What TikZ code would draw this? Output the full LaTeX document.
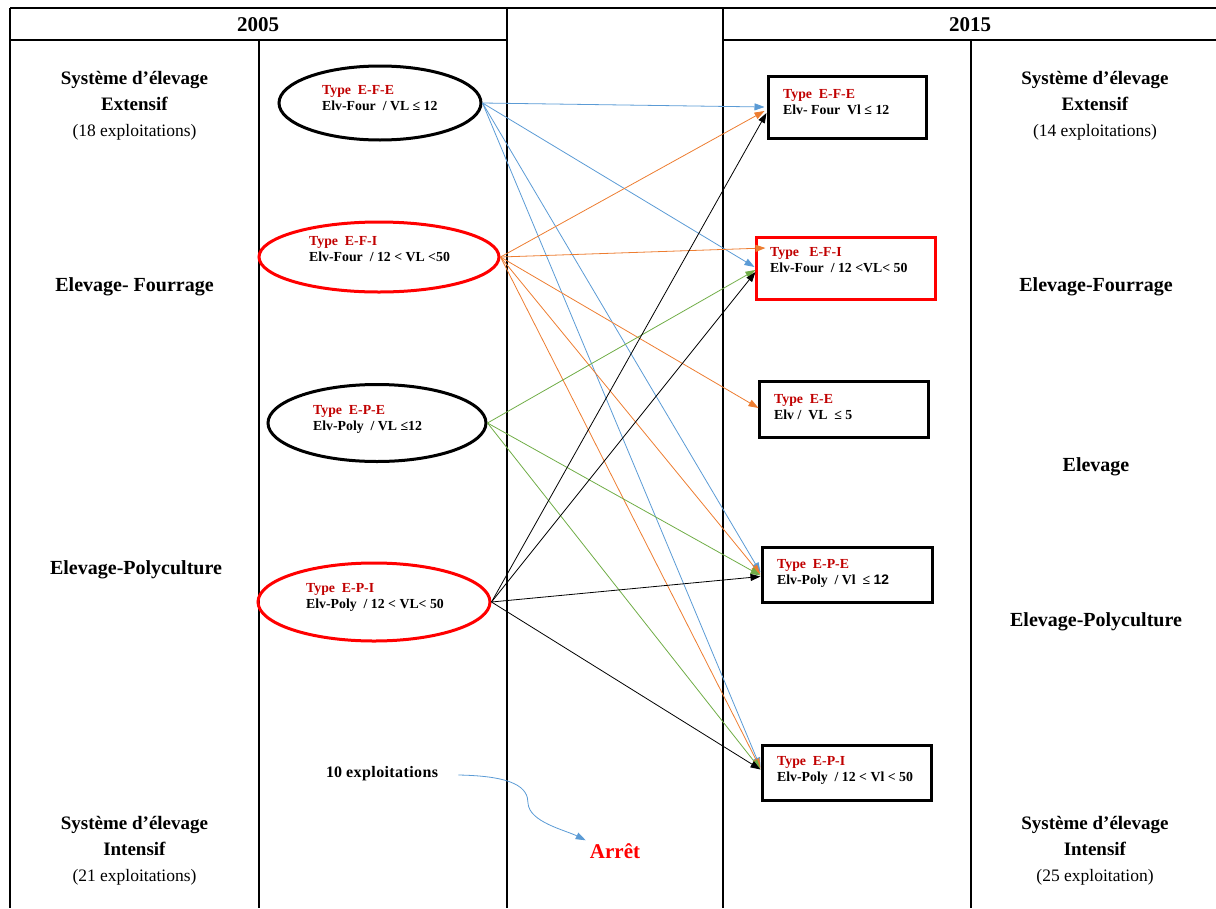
\documentclass[tikz,border=0pt]{standalone}
\usepackage{fontspec}
\setmainfont{Liberation Serif}
\newfontfamily\sansf{Liberation Sans}
\usetikzlibrary{arrows.meta,shapes.geometric,calc}
\definecolor{ablue}{HTML}{5B9BD5}
\definecolor{aorange}{HTML}{ED7D31}
\definecolor{agreen}{HTML}{70AD47}
\definecolor{dred}{HTML}{C00000}
\definecolor{bred}{HTML}{FF0000}
\tikzset{
  grid/.style={line width=2pt},
  ell/.style={ellipse, draw, line width=3pt, inner sep=0pt},
  bx/.style={rectangle, draw, line width=3pt, inner sep=0pt},
  lbl/.style={align=left, anchor=west, inner sep=0pt, font=\fontsize{13.8}{16}\selectfont\bfseries},
  conn/.style={line width=0.8pt, -{Triangle[length=10pt,width=7pt]}},
  side/.style={align=center, inner sep=0pt, font=\fontsize{19}{26}\selectfont},
  big/.style={inner sep=0pt, font=\fontsize{20}{24}\selectfont\bfseries},
}
\begin{document}
\begin{tikzpicture}[x=1pt,y=-1pt]
\useasboundingbox (0,0) rectangle (1216,908);
% table
\draw[grid] (10,8) -- (1216,8);
\draw[grid] (10,40) -- (507,40);
\draw[grid] (723,40) -- (1216,40);
\draw[grid] (10,8) -- (10,908);
\draw[grid] (259,40) -- (259,908);
\draw[grid] (507,8) -- (507,908);
\draw[grid] (723,8) -- (723,908);
\draw[grid] (971,40) -- (971,908);
\node[big, font=\fontsize{21}{24}\selectfont\bfseries] (y1) at (258,25) {2005};
\node[big, font=\fontsize{21}{24}\selectfont\bfseries] (y2) at (970,25) {2015};
% side labels
\node[side] (l1) at (134.5,106) {\textbf{Système d’élevage}\\\textbf{Extensif}\\{\fontsize{17.5}{26}\selectfont(18 exploitations)}};
\node[big] (l2) at (134.5,287) {Elevage- Fourrage};
\node[big] (l3) at (136,570) {Elevage-Polyculture};
\node[side] (l4) at (134.5,851) {\textbf{Système d’élevage}\\\textbf{Intensif}\\{\fontsize{17.5}{26}\selectfont(21 exploitations)}};
\node[side] (r1) at (1095,106) {\textbf{Système d’élevage}\\\textbf{Extensif}\\{\fontsize{17.5}{26}\selectfont(14 exploitations)}};
\node[big] (r2) at (1096,287) {Elevage-Fourrage};
\node[big] (r3) at (1096,467) {Elevage};
\node[big] (r4) at (1096,622) {Elevage-Polyculture};
\node[side] (r5) at (1095,851) {\textbf{Système d’élevage}\\\textbf{Intensif}\\{\fontsize{17.5}{26}\selectfont(25 exploitation)}};
% ellipses
\node[ell, minimum width=202pt, minimum height=74pt] (e1) at (380,103) {};
\node[ell, draw=bred, minimum width=240pt, minimum height=70pt] (e2) at (379,257) {};
\node[ell, minimum width=218pt, minimum height=77pt] (e3) at (377,423) {};
\node[ell, draw=bred, minimum width=232pt, minimum height=78pt] (e4) at (374,602) {};
\node[lbl] (e1t) at (322,98) {\textcolor{dred}{Type\ \ E-F-E}\\Elv-Four\ \ / VL ≤ 12};
\node[lbl] (e2t) at (309,249) {\textcolor{dred}{Type\ \ E-F-I}\\Elv-Four\ \ / 12 < VL <50};
\node[lbl] (e3t) at (313,419) {\textcolor{dred}{Type\ \ E-P-E}\\Elv-Poly\ \ / VL ≤12};
\node[lbl] (e4t) at (306,597) {\textcolor{dred}{Type\ \ E-P-I}\\Elv-Poly\ \ / 12 < VL< 50};
% boxes
\node[bx, minimum width=158pt, minimum height=62pt] (b1) at (847,107) {};
\node[bx, draw=bred, minimum width=179pt, minimum height=62pt] (b2) at (845.5,268) {};
\node[bx, minimum width=169pt, minimum height=56pt] (b3) at (843.5,409) {};
\node[bx, minimum width=170pt, minimum height=55pt] (b4) at (847,574.5) {};
\node[bx, minimum width=169pt, minimum height=55pt] (b5) at (846.5,772.5) {};
\node[lbl] (b1t) at (783,102.5) {\textcolor{dred}{Type\ \ E-F-E}\\Elv- Four\ \ Vl ≤ 12};
\node[lbl] (b2t) at (770,260.5) {\textcolor{dred}{Type\ \ \ E-F-I}\\Elv-Four\ \ / 12 <VL< 50};
\node[lbl] (b3t) at (774,407) {\textcolor{dred}{Type\ \ E-E}\\Elv /\ \ VL\ \ ≤ 5};
\node[lbl] (b4t) at (777,573) {\textcolor{dred}{Type\ \ E-P-E}\\Elv-Poly\ \ / Vl\ \ ≤ {\sansf 12}};
\node[lbl] (b5t) at (777,770.5) {\textcolor{dred}{Type\ \ E-P-I}\\Elv-Poly\ \ / 12 < Vl < 50};
% target points
\coordinate (b1a) at ($(b1.west)+(-2,0)$);
\coordinate (b1b) at ($(b1.west)+(-2,4)$);
\coordinate (b1c) at ($(b1.west)+(0,6)$);
\coordinate (b2a) at ($(b2.west)+(11,-20)$);
\coordinate (b2b) at ($(b2.west)+(0,-1)$);
\coordinate (b2c) at ($(b2.west)+(1,2)$);
\coordinate (b2d) at ($(b2.west)+(1,4)$);
\coordinate (b3a) at ($(b3.west)+(1,-1)$);
\coordinate (b4a) at ($(b4.west)+(0,-2)$);
\coordinate (b4b) at ($(b4.west)+(0,0)$);
\coordinate (b4c) at ($(b4.west)+(0,1)$);
\coordinate (b4d) at ($(b4.west)+(0,2)$);
\coordinate (b5a) at ($(b5.west)+(0,-5)$);
\coordinate (b5b) at ($(b5.west)+(0,-4)$);
\coordinate (b5c) at ($(b5.west)+(0,-3)$);
\coordinate (b5d) at ($(b5.west)+(0,-3)$);
% blue
\draw[conn, ablue] (e1.east) -- (b1a);
\draw[conn, ablue] (e1.east) -- (b2b);
\draw[conn, ablue] (e1.east) -- (b4a);
\draw[conn, ablue] (e1.east) -- (b5a);
% orange
\draw[conn, aorange] (e2.east) -- (b1b);
\draw[conn, aorange] (e2.east) -- (b2a);
\draw[conn, aorange] (e2.east) -- (b3a);
\draw[conn, aorange] (e2.east) -- (b4b);
\draw[conn, aorange] (e2.east) -- (b5b);
% green
\draw[conn, agreen] (e3.east) -- (b2c);
\draw[conn, agreen] (e3.east) -- (b4c);
\draw[conn, agreen] (e3.east) -- (b5c);
% black
\draw[conn, black] (e4.east) -- (b1c);
\draw[conn, black] (e4.east) -- (b2d);
\draw[conn, black] (e4.east) -- (b4d);
\draw[conn, black] (e4.east) -- (b5d);
% arret
\node[inner sep=0pt, anchor=west, font=\fontsize{16}{18}\selectfont\bfseries] (ten) at (326,774) {10 e\kern0.4pt x\kern0.4pt p\kern0.4pt l\kern0.4pt o\kern0.4pt i\kern0.4pt t\kern0.4pt a\kern0.4pt t\kern0.4pt i\kern0.4pt o\kern0.4pt n\kern0.4pt s};
\node[inner sep=0pt, text=bred, font=\fontsize{21}{24}\selectfont\bfseries] (arret) at (615,851) {Arrêt};
\coordinate (cs) at ($(ten.east)+(20,1)$);
\coordinate (ce) at ($(arret.north west)+(-4,-3)$);
\draw[conn, ablue] (cs) .. controls (515,776) and (528,788) .. (528,803) .. controls (529,822) and (565,830) .. (ce);
\end{tikzpicture}
\end{document}
